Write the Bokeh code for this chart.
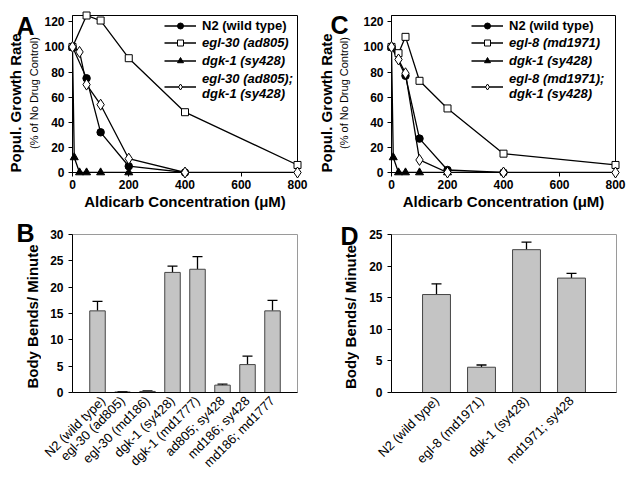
import math
from bokeh.plotting import figure
from bokeh.models import (ColumnDataSource, Legend, LegendItem, Label, Range1d,
                          FixedTicker, Whisker, TeeHead)
from bokeh.layouts import row, column
from bokeh.embed import file_html
from bokeh.resources import INLINE

FONT = "Liberation Sans"

# ---------------- Panel A data (aldicarb, egl-30) ----------------
a_n2_x = [0, 50, 100, 200, 400]
a_n2_y = [100, 75, 32, 5, 0]
a_egl30_x = [0, 50, 100, 200, 400, 800]
a_egl30_y = [100, 125, 121, 91, 48, 6]
a_dgk1_x = [0, 6.25, 25, 50, 100, 200]
a_dgk1_y = [100, 12, 0, 0, 0, 0]
a_double_x = [0, 25, 50, 100, 200, 400, 800]
a_double_y = [100, 96, 70, 54, 11, 0, 0]
a_labels = ["N2 (wild type)", "egl-30 (ad805)", "dgk-1 (sy428)", "egl-30 (ad805);\ndgk-1 (sy428)"]

# ---------------- Panel C data (aldicarb, egl-8) ----------------
c_n2_x = [0, 50, 100, 200, 400]
c_n2_y = [100, 77, 27, 2, 0]
c_egl8_x = [0, 25, 50, 100, 200, 400, 800]
c_egl8_y = [100, 95, 108, 73, 51, 15, 6]
c_dgk1_x = [0, 6.25, 25, 50, 100, 200]
c_dgk1_y = [100, 12, 0, 0, 0, 0]
c_double_x = [0, 25, 50, 100, 200, 400, 800]
c_double_y = [100, 90, 79, 10, 0, 0, 0]
c_labels = ["N2 (wild type)", "egl-8 (md1971)", "dgk-1 (sy428)", "egl-8 (md1971);\ndgk-1 (sy428)"]

x_ticks = [0, 200, 400, 600, 800]
y_ticks_top = [0, 20, 40, 60, 80, 100, 120]
x_title = "Aldicarb Concentration (\u03bcM)"
y_title_top = "Popul. Growth Rate"
y_subtitle_top = "(% of No Drug Control)"

# ---------------- Panel B data (body bends) ----------------
b_cats = ["N2 (wild type)", "egl-30 (ad805)", "egl-30 (md186)", "dgk-1 (sy428)",
          "dgk-1 (md1777)", "ad805; sy428", "md186; sy428", "md186; md1777"]
b_vals = [15.5, 0.1, 0.2, 22.8, 23.4, 1.4, 5.3, 15.5]
b_upper = [17.3, 0.15, 0.3, 24.0, 25.8, 1.6, 6.9, 17.5]
b_yticks = [0, 5, 10, 15, 20, 25, 30]

# ---------------- Panel D data (body bends) ----------------
d_cats = ["N2 (wild type)", "egl-8 (md1971)", "dgk-1 (sy428)", "md1971; sy428"]
d_vals = [15.5, 4.0, 22.6, 18.1]
d_upper = [17.2, 4.35, 23.8, 18.85]
d_yticks = [0, 5, 10, 15, 20, 25]
y_title_bot = "Body Bends/ Minute"

TOP_FH = 157
BOT_FH = 158
PAGE_H = 483
STRIP_W = 41
R = math.pi / 2


def style_axes(p):
    for ax in (p.xaxis[0], p.yaxis[0]):
        ax.major_label_text_font = FONT
        ax.major_label_text_font_size = "12px"
        ax.major_label_text_font_style = "bold"
        ax.major_label_text_color = "black"
        ax.major_tick_in = 0
        ax.major_tick_out = 4
        ax.minor_tick_line_color = None
        ax.axis_line_color = "black"
        ax.major_tick_line_color = "black"
        ax.axis_label_text_font = FONT
        ax.axis_label_text_color = "black"
    p.grid.visible = False


def strip(texts):
    """Full-height text-only figure: x, y are pixels from its top-left corner."""
    s = figure(width=STRIP_W, height=PAGE_H, x_range=Range1d(0, STRIP_W),
               y_range=Range1d(0, PAGE_H), output_backend="svg", toolbar_location=None,
               min_border=0, x_axis_type=None, y_axis_type=None, outline_line_color=None)
    s.grid.visible = False
    for (txt, x, y, size, style, angle, align, base) in texts:
        s.add_layout(Label(x=x, y=PAGE_H - y, text=txt, text_font=FONT, text_font_size=size,
                           text_font_style=style, angle=angle, text_align=align,
                           text_baseline=base, text_color="black"))
    return s


def line_panel(frame_w, left, right, data, labels, leg_x):
    p = figure(frame_width=frame_w, frame_height=TOP_FH, x_range=Range1d(0, 800),
               y_range=Range1d(0, 125), output_backend="svg", toolbar_location=None,
               min_border_left=left, min_border_right=right,
               min_border_top=15, min_border_bottom=36)
    style_axes(p)
    p.xaxis.ticker = FixedTicker(ticks=x_ticks)
    p.yaxis.ticker = FixedTicker(ticks=y_ticks_top)
    p.xaxis.major_label_standoff = 3
    p.yaxis.major_label_standoff = 4
    p.xaxis.axis_label = x_title
    p.xaxis.axis_label_text_font_size = "15px"
    p.xaxis.axis_label_text_font_style = "bold"
    p.xaxis.axis_label_standoff = 1
    p.outline_line_color = "black"
    p.outline_line_alpha = 1

    (n2x, n2y), (mx, my), (dx, dy), (ddx, ddy) = data
    r1l = p.line(n2x, n2y, line_color="black", line_width=1.3)
    r1m = p.scatter(n2x, n2y, marker="circle", size=7.5, fill_color="black",
                    line_color="black", level="overlay")
    r2l = p.line(mx, my, line_color="black", line_width=1.3)
    r2m = p.scatter(mx, my, marker="square", size=7, fill_color="white", line_color="black",
                    line_width=1, level="overlay")
    r3l = p.line(dx, dy, line_color="black", line_width=1.3)
    r3m = p.scatter(dx, dy, marker="triangle", size=8, fill_color="black",
                    line_color="black", level="overlay")
    r4l = p.line(ddx, ddy, line_color="black", line_width=1.3)
    r4m = p.scatter(ddx, ddy, marker="diamond", size=11,
                    fill_color="white", line_color="black", line_width=1, level="overlay")

    common = dict(padding=0, margin=0, border_line_color=None, background_fill_alpha=0,
                  glyph_width=32, glyph_height=15, label_height=15, spacing=3,
                  label_standoff=6, label_text_font=FONT, label_text_font_size="13px",
                  label_text_color="black")
    leg1 = Legend(items=[LegendItem(label=labels[0], renderers=[r1l, r1m])],
                  location=(leg_x, 139), label_text_font_style="bold", **common)
    leg2 = Legend(items=[LegendItem(label=labels[1], renderers=[r2l, r2m]),
                         LegendItem(label=labels[2], renderers=[r3l, r3m]),
                         LegendItem(label=labels[3], renderers=[r4l, r4m])],
                  location=(leg_x, 71), label_text_font_style="bold italic", **common)
    p.add_layout(leg1)
    p.add_layout(leg2)
    return p


def bar_panel(left, right, cats, vals, upper, yticks, ymax):
    n = len(cats)
    p = figure(frame_width=225, frame_height=BOT_FH, x_range=Range1d(-1, n),
               y_range=Range1d(0, ymax), output_backend="svg", toolbar_location=None,
               min_border_left=left, min_border_right=right,
               min_border_top=22, min_border_bottom=60)
    style_axes(p)
    idx = list(range(n))
    src = ColumnDataSource(dict(x=idx, top=vals, upper=upper))
    p.vbar(x="x", top="top", width=0.62, source=src,
           fill_color="#c4c4c4", line_color="#444444", line_width=1)
    p.add_layout(Whisker(source=src, base="x", lower="top", upper="upper", dimension="height",
                         line_color="black", line_width=1.3, lower_head=None,
                         upper_head=TeeHead(size=10, line_color="black", line_width=1.3)))
    p.xaxis.ticker = FixedTicker(ticks=idx)
    p.xaxis.major_label_overrides = {i: c for i, c in enumerate(cats)}
    p.xaxis.major_label_orientation = math.pi / 4
    p.xaxis.major_label_text_font_style = "normal"
    p.xaxis.major_label_text_font_size = "13px"
    p.xaxis.major_tick_line_color = None
    p.xaxis.major_label_standoff = 2
    p.yaxis.ticker = FixedTicker(ticks=yticks)
    p.yaxis.major_label_standoff = 5
    p.outline_line_color = "#9a9a9a"
    return p


left_strip = strip([
    ("A", 16, 25, "25px", "bold", 0, "left", "alphabetic"),
    (y_title_top, 15, 172, "15px", "bold", R, "left", "middle"),
    (y_subtitle_top, 33, 92.5, "11px", "normal", R, "center", "middle"),
    ("B", 16, 232.5, "25px", "bold", 0, "left", "alphabetic"),
    (y_title_bot, 32, 316, "15px", "bold", R, "center", "middle"),
])
mid_strip = strip([
    ("C", 12, 24, "25px", "bold", 0, "left", "alphabetic"),
    (y_title_top, 7.5, 172, "15px", "bold", R, "left", "middle"),
    (y_subtitle_top, 25, 92.5, "11px", "normal", R, "center", "middle"),
    ("D", 22, 235, "25px", "bold", 0, "left", "alphabetic"),
    (y_title_bot, 32, 316.5, "15px", "bold", R, "center", "middle"),
])

pa = line_panel(225, 31, 21, [(a_n2_x, a_n2_y), (a_egl30_x, a_egl30_y), (a_dgk1_x, a_dgk1_y),
                              (a_double_x, a_double_y)], a_labels, 92)
pc = line_panel(224, 32, 14, [(c_n2_x, c_n2_y), (c_egl8_x, c_egl8_y), (c_dgk1_x, c_dgk1_y),
                              (c_double_x, c_double_y)], c_labels, 80)
pb = bar_panel(31, 21, b_cats, b_vals, b_upper, b_yticks, 30)
pd = bar_panel(28, 17, d_cats, d_vals, d_upper, d_yticks, 25)

layout = row(left_strip, column(pa, pb), mid_strip, column(pc, pd))
open("out.html", "w").write(file_html(layout, INLINE))
